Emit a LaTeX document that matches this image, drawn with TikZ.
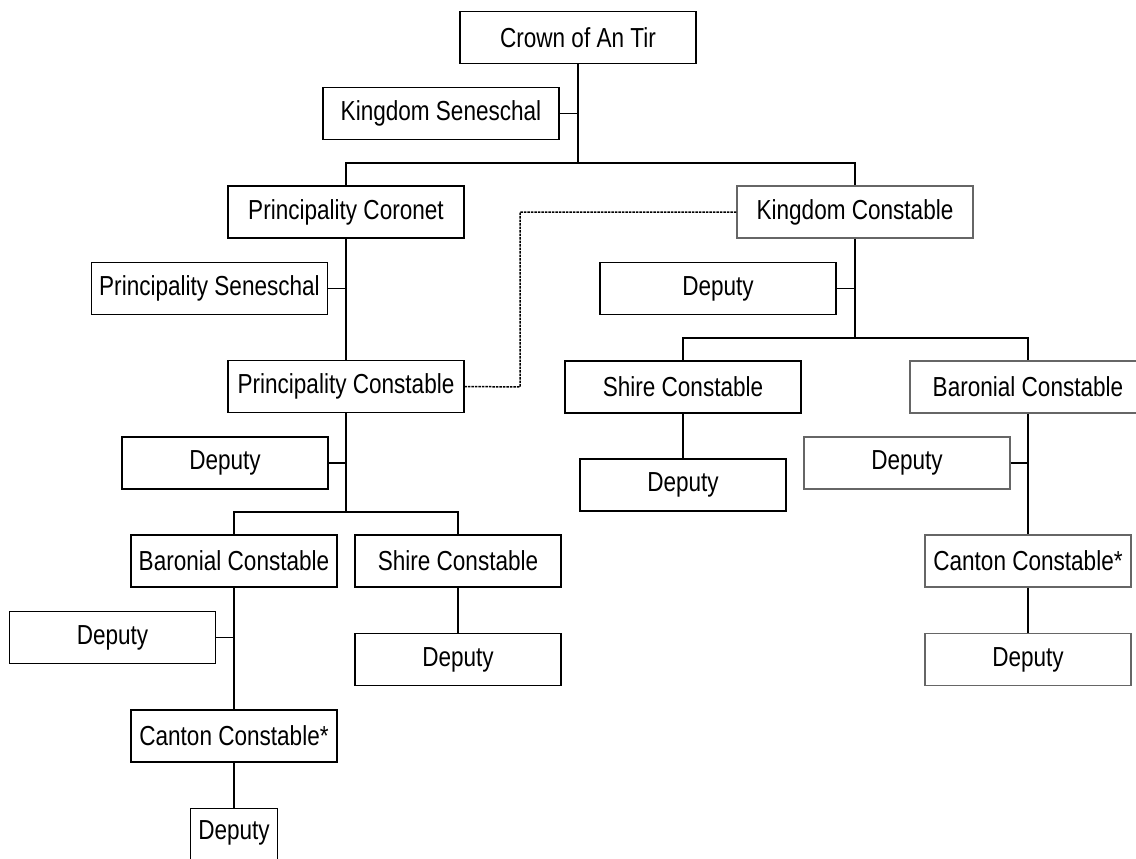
\documentclass[tikz,border=0pt]{standalone}
\usepackage{fontspec}
\setmainfont{Liberation Sans}[FakeStretch=0.82]
\begin{document}
\begin{tikzpicture}[x=1pt,y=-1pt,
  box/.style={draw=black, line width=1.8pt, inner sep=0pt, minimum height=52pt,
    font=\fontsize{27.5}{31}\selectfont, text=black},
  graybox/.style={box, draw=black!60, line width=1.3pt},
  txt/.style={inner sep=0pt, font=\fontsize{27.5}{31}\selectfont, text=black},
  wide/.style={minimum width=236pt},
  narrow/.style={minimum width=206pt},
  link/.style={line width=1.8pt, black},
  dotline/.style={line width=1.5pt, black, dash pattern=on 2.5pt off 1pt}]
\useasboundingbox (0,0) rectangle (1136,859);
% nodes
\node[box,wide] (crown) at (578,37.5) {Crown of An Tir};
\node[box,wide] (kseneschal) at (441,113.5) {Kingdom Seneschal};
\node[box,wide] (pcoronet) at (346,212) {Principality Coronet};
\node[graybox,wide] (kconstable) at (855,212) {Kingdom Constable};
\node[box,wide] (psenes) at (209.5,288.5) {Principality Seneschal};
\node[box,wide] (pconst) at (346,386.5) {Principality Constable};
\node[box,narrow] (pdep) at (225,463) {Deputy};
\node[box,narrow] (lbaron) at (234,561) {Baronial Constable};
\node[box,narrow] (lshire) at (458,561) {Shire Constable};
\node[box,narrow] (lbdep) at (112.5,637.5) {Deputy};
\node[box,narrow] (lcanton) at (234,736) {Canton Constable*};
\node[box,minimum width=87pt,minimum height=80pt,anchor=north] (lcdep) at (234,807.5) {};
\node[txt] (lcdeptext) at (234,833) {Deputy};
\node[box,narrow] (lsdep) at (458,659.5) {Deputy};
\node[box,wide] (kdep) at (718,288.5) {Deputy};
\node[box,wide] (rshire) at (683,387) {Shire Constable};
\node[box,narrow] (rsdep) at (683,485) {Deputy};
\node[graybox,wide] (rbaron) at (1028,387) {Baronial Constable};
\node[graybox,narrow] (rbdep) at (907,463) {Deputy};
\node[graybox,narrow] (rcanton) at (1028,561) {Canton Constable*};
\node[graybox,narrow] (rcdep) at (1028,659.5) {Deputy};
% junctions
\coordinate (kbus) at (578,163);
\coordinate (pbus) at (346,512);
\coordinate (rbus) at (855,338);
\coordinate (dbend) at (520,387);
% connectors
\draw[link] (crown.south) -- (kbus);
\draw[link] (kseneschal.east) -- (kseneschal.east -| crown.south);
\draw[link] (pcoronet.north) |- (kbus) -| (kconstable.north);
\draw[link] (pcoronet.south) -- (pconst.north);
\draw[link] (psenes.east) -- (psenes.east -| pcoronet.south);
\draw[link] (pconst.south) -- (pbus);
\draw[link] (pdep.east) -- (pdep.east -| pconst.south);
\draw[link] (lbaron.north) |- (pbus) -| (lshire.north);
\draw[link] (lbaron.south) -- (lcanton.north);
\draw[link] (lbdep.east) -- (lbdep.east -| lbaron.south);
\draw[link] (lcanton.south) -- (lcdep.north);
\draw[link] (lshire.south) -- (lsdep.north);
\draw[link] (kconstable.south) -- (rbus);
\draw[link] (kdep.east) -- (kdep.east -| kconstable.south);
\draw[link] (rshire.north) |- (rbus) -| (rbaron.north);
\draw[link] (rshire.south) -- (rsdep.north);
\draw[link] (rbaron.south) -- (rcanton.north);
\draw[link] (rbdep.east) -- (rbdep.east -| rbaron.south);
\draw[link] (rcanton.south) -- (rcdep.north);
\draw[dotline] (kconstable.west) -| (dbend) -- (pconst.east);
\end{tikzpicture}
\end{document}
